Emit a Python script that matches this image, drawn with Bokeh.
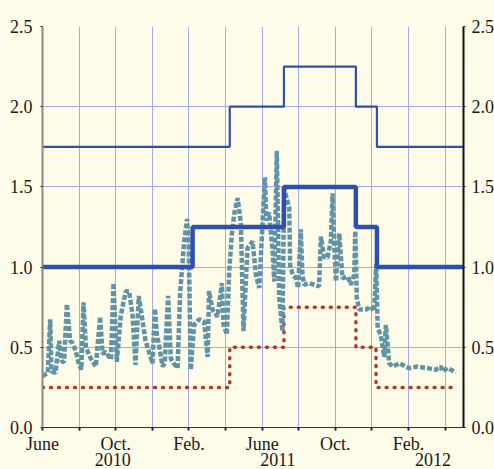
from bokeh.plotting import figure
from bokeh.models import LinearAxis, FixedTicker, Range1d, PrintfTickFormatter
from bokeh.embed import file_html
from bokeh.resources import INLINE

# x positions are months since 1 June 2010
month_ticks = [0, 2, 4, 6, 8, 10, 12, 14, 16, 18, 20, 22]
month_labels = ["June", "", "Oct.", "", "Feb.", "", "June", "", "Oct.", "", "Feb.", ""]
year_pos = [3.84, 12.86, 21.33]
year_labels = ["2010", "2011", "2012"]
y_ticks = [0.0, 0.5, 1.0, 1.5, 2.0, 2.5]

upper_x = [0, 10.23, 13.19, 17.12, 18.27, 23]
upper_y = [1.75, 2.0, 2.25, 2.0, 1.75, 1.75]
main_x = [0, 8.2, 13.19, 17.12, 18.27, 23]
main_y = [1.0, 1.25, 1.5, 1.25, 1.0, 1.0]
lower_x = [0, 10.23, 13.19, 17.12, 18.22, 22.4]
lower_y = [0.25, 0.5, 0.75, 0.5, 0.25, 0.25]

rate_x = [0.00, 0.29, 0.42, 0.49, 0.71, 0.91, 1.06, 1.18, 1.33, 1.51, 1.62, 1.82,
          1.98, 2.12, 2.24, 2.37, 2.64, 2.91, 3.15, 3.28, 3.46, 3.74, 3.88, 4.06,
          4.28, 4.55, 4.73, 4.92, 5.08, 5.26, 5.63, 6.01, 6.14, 6.25, 6.37, 6.56,
          6.68, 6.86, 7.01, 7.17, 7.38, 7.52, 7.65, 7.74, 7.90, 7.99, 8.10, 8.28,
          8.56, 8.83, 9.02, 9.10, 9.29, 9.56, 9.80, 9.89, 10.07, 10.20, 10.34, 10.47,
          10.66, 10.84, 10.98, 11.20, 11.48, 11.66, 11.84, 12.15, 12.23, 12.38, 12.57,
          12.66, 12.80, 12.93, 13.11, 13.20, 13.48, 13.53, 13.68, 13.84, 13.97, 14.11,
          14.20, 14.30, 14.57, 14.84, 15.11, 15.21, 15.39, 15.57, 15.75, 15.85, 15.93,
          16.03, 16.21, 16.39, 16.67, 16.85, 17.03, 17.09, 17.17, 17.30, 17.67, 17.94,
          18.12, 18.23, 18.31, 18.49, 18.67, 18.76, 18.85, 18.94, 19.13, 19.49, 20.03,
          20.49, 21.04, 21.49, 21.77, 21.86, 22.13, 22.58]
rate_y = [0.32, 0.34, 0.675, 0.35, 0.34, 0.54, 0.41, 0.41, 0.77, 0.54, 0.53, 0.475,
          0.40, 0.36, 0.78, 0.50, 0.43, 0.38, 0.69, 0.46, 0.47, 0.425, 0.90, 0.41,
          0.70, 0.85, 0.85, 0.70, 0.39, 0.82, 0.54, 0.40, 0.74, 0.58, 0.51, 0.38,
          0.40, 0.82, 0.43, 0.40, 0.37, 0.84, 1.03, 1.16, 1.30, 1.12, 0.36, 0.64,
          0.675, 0.66, 0.44, 0.85, 0.735, 0.69, 0.90, 0.64, 0.58, 0.975, 1.20, 1.33,
          1.43, 1.27, 0.60, 1.12, 1.16, 0.95, 0.87, 1.56, 1.29, 1.34, 1.10,
          0.91, 1.725, 0.81, 0.60, 1.49, 1.37, 1.01, 0.95, 0.93, 0.87, 1.235,
          0.955, 0.89, 0.90, 0.89, 0.88, 1.19, 1.06, 1.06, 1.16, 1.46, 1.16,
          0.91, 1.21, 0.93, 0.94, 0.89, 0.955, 1.225, 0.81, 0.735, 0.735, 0.755,
          0.725, 1.02, 0.62, 0.57, 0.44, 0.64, 0.52, 0.40, 0.38, 0.40, 0.37,
          0.38, 0.37, 0.36, 0.38, 0.35, 0.37, 0.345]

BG = "#FFFDE9"
FONT = "Liberation Serif"
FS = "18px"

p = figure(frame_width=421, frame_height=401, output_backend="svg",
           toolbar_location=None, x_range=Range1d(0, 23), y_range=Range1d(0, 2.5),
           x_axis_location=None, y_axis_location=None,
           min_border_left=42, min_border_right=31, min_border_top=26, min_border_bottom=10)
p.background_fill_color = BG
p.border_fill_color = BG
p.outline_line_color = None

grid_color = "#A3ABEA"
p.xgrid.ticker = FixedTicker(ticks=month_ticks)
p.ygrid.ticker = FixedTicker(ticks=y_ticks)
p.xgrid.grid_line_color = grid_color
p.ygrid.grid_line_color = grid_color
p.xgrid.grid_line_width = 1
p.ygrid.grid_line_width = 1

# bottom axis: month labels plus year labels on a second line
xa = LinearAxis(ticker=FixedTicker(ticks=month_ticks + year_pos, minor_ticks=month_ticks))
overrides = {t: l for t, l in zip(month_ticks, month_labels)}
for t, l in zip(year_pos, year_labels):
    overrides[t] = "\n" + l
xa.major_label_overrides = overrides
xa.major_tick_out = 0
xa.major_tick_in = 0
xa.minor_tick_out = 3
xa.minor_tick_in = 0
xa.minor_tick_line_width = 2
xa.minor_tick_line_color = "#222222"
xa.axis_line_color = "#333333"
xa.axis_line_width = 1
xa.major_label_standoff = 3
xa.major_label_text_font = FONT
xa.major_label_text_font_size = FS
xa.major_label_text_color = "#1a1a1a"
xa.major_label_text_line_height = 0.8
p.add_layout(xa, "below")

for side, lc in (("left", "#8a8a8a"), ("right", "#111111")):
    ya = LinearAxis(ticker=FixedTicker(ticks=y_ticks),
                    formatter=PrintfTickFormatter(format="%.1f"))
    ya.axis_line_color = lc
    ya.axis_line_width = 2
    ya.major_tick_out = 2
    ya.major_tick_in = 0
    ya.major_tick_line_color = "#222222"
    ya.minor_tick_line_color = None
    ya.major_label_standoff = 8 if side == "left" else 6
    ya.major_label_text_font = FONT
    ya.major_label_text_font_size = FS
    ya.major_label_text_color = "#1a1a1a"
    p.add_layout(ya, side)

blue = "#2E4FAE"
p.step(upper_x, upper_y, mode="after", line_color=blue, line_width=2.2)
p.step(lower_x, lower_y, mode="after", line_color="#B23A2C", line_width=3.5,
       line_dash="1 7", line_cap="round")
p.line(rate_x, rate_y, line_color="#6093A6", line_width=4.5, line_dash="5 2")
p.step(main_x, main_y, mode="after", line_color=blue, line_width=4.5)

open("out.html", "w").write(file_html(p, INLINE))
